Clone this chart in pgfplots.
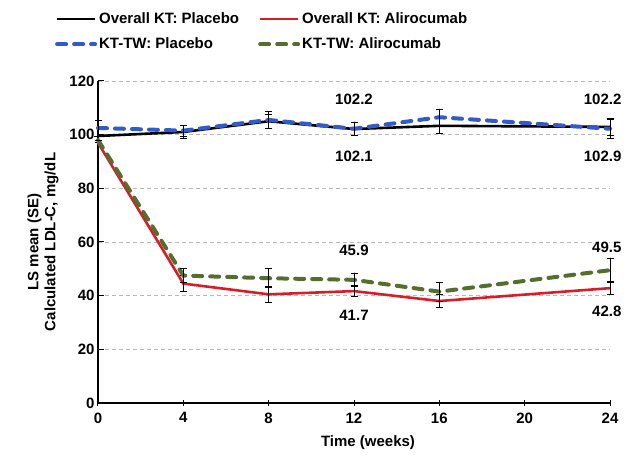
\documentclass[border=0pt]{standalone}
\usepackage{pgfplots}
\pgfplotsset{compat=1.18}
\usepackage{fontspec}
\setmainfont{Liberation Sans}
\definecolor{cblue}{RGB}{50,90,200}
\definecolor{cgreen}{RGB}{85,110,45}
\definecolor{cred}{RGB}{215,30,40}
\newcommand{\f}{\fontsize{15}{17}\selectfont\bfseries}
\begin{document}
\begin{tikzpicture}
\useasboundingbox (-98pt,-57pt) rectangle (531pt,403pt);
\begin{axis}[
  scale only axis, width=512pt, height=322pt,
  xmin=0, xmax=24, ymin=0, ymax=120,
  clip=false,
  xtick={0,4,8,12,16,20,24}, ytick={0,20,40,60,80,100,120},
  axis x line*=bottom, axis y line*=left,
  axis line style={line width=1.2pt, -},
  tick style={black, line width=1pt},
  major tick length=6pt,
  xtick align=center,
  ymajorgrids, grid style={gray!55, dash pattern=on 4pt off 3pt, line width=0.6pt},
  tick label style={font=\f},
  x tick label style={yshift=-3pt},
  /pgf/number format/assume math mode=true,
  xlabel={\f Time (weeks)},
  ylabel={\f\begin{tabular}{c}LS mean (SE)\\Calculated LDL-C, mg/dL\end{tabular}},
  xlabel style={yshift=-6pt, xshift=14pt},
  ylabel style={yshift=2pt},
  legend style={at={(-0.09,1.225)}, anchor=north west, draw=none, fill=none,
    font=\f, legend columns=2, row sep=9pt,
    /tikz/every even column/.append style={column sep=17pt}},
  legend cell align=left,
  legend image code/.code={\draw[#1] (0pt,0pt) -- (38pt,0pt);},
  error bars/error bar style={black, line width=0.8pt, solid},
  error bars/error mark options={black, rotate=90, mark size=3.5pt, line width=0.8pt, solid},
]
\addplot[black, line width=2.6pt, error bars/.cd, y dir=both, y explicit] coordinates {
 (0,99.5) +- (0,0) (4,101) +- (0,2.5) (8,105) +- (0,2.5) (12,102.1) +- (0,2.5) (16,103.3) +- (0,3) (24,102.9) +- (0,3.2)};
\addlegendentry{Overall KT: Placebo}
\addplot[cred, line width=2.6pt, error bars/.cd, y dir=both, y explicit] coordinates {
 (0,97) +- (0,0) (4,44.5) +- (0,3) (8,40.5) +- (0,3) (12,41.7) +- (0,2) (16,38) +- (0,2.5) (24,42.8) +- (0,2.5)};
\addlegendentry{Overall KT: Alirocumab}
\addplot[cblue, line width=4pt, line cap=round, dash pattern=on 9pt off 8pt, error bars/.cd, y dir=both, y explicit] coordinates {
 (0,102.5) +- (0,3) (4,101.5) +- (0,2) (8,105.5) +- (0,3) (12,102.2) +- (0,2.5) (16,106.5) +- (0,3) (24,102.2) +- (0,3.5)};
\addlegendentry{KT-TW: Placebo}
\addplot[cgreen, line width=4pt, line cap=round, dash pattern=on 9pt off 8pt, error bars/.cd, y dir=both, y explicit] coordinates {
 (0,98) +- (0,0) (4,47.5) +- (0,2.5) (8,46.5) +- (0,3.5) (12,45.9) +- (0,2.5) (16,41.5) +- (0,3.5) (24,49.5) +- (0,4.5)};
\addlegendentry{KT-TW: Alirocumab}
\node[font=\f] at (axis cs:12,113) {102.2};
\node[font=\f] at (axis cs:12,92) {102.1};
\node[font=\f, anchor=east] at (axis cs:24.7,113) {102.2};
\node[font=\f, anchor=east] at (axis cs:24.7,92) {102.9};
\node[font=\f] at (axis cs:12,57) {45.9};
\node[font=\f] at (axis cs:12,32.5) {41.7};
\node[font=\f, anchor=east] at (axis cs:24.7,58) {49.5};
\node[font=\f, anchor=east] at (axis cs:24.7,34) {42.8};
\end{axis}
\end{tikzpicture}
\end{document}
